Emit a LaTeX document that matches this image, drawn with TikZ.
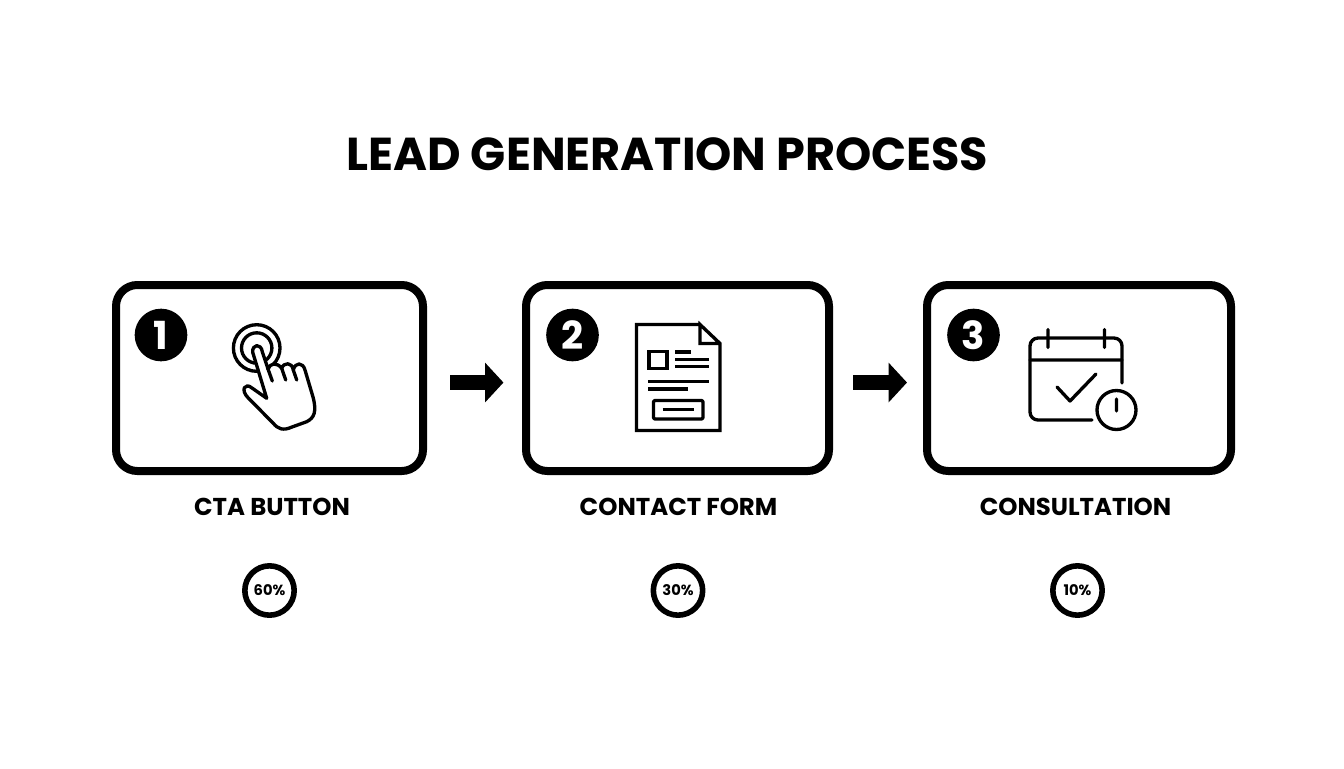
\documentclass[tikz,border=0pt]{standalone}
\usepackage{fontspec}
\setmainfont{Poppins}
\usetikzlibrary{arrows.meta}
\tikzset{
    % One unit of the picture is one pixel of the layout
    every node/.style={align=center, text=black, inner sep=0},
%
    title/.style={font=\fontsize{34.6}{40}\selectfont\bfseries},
    card/.style={
        draw, rectangle, line width=6pt, rounded corners=16pt,
        minimum height=139.5pt},
    badge/.style={
        circle, fill=black, text=white, minimum size=39.5pt,
        font=\fontsize{29}{30}\selectfont\bfseries},
    step label/.style={font=\fontsize{18.3}{20}\selectfont\bfseries},
    share/.style={
        draw, circle, line width=4.2pt, minimum size=37pt,
        font=\fontsize{11}{12}\selectfont\bfseries},
%
    flow/.style={
        draw, line width=11.25pt,
        -{Triangle[length=13.8pt, width=29pt]}},
    icon/.style={line width=2.5pt, line cap=round, line join=round},
}

\begin{document}
\begin{tikzpicture}[
    x=0.75pt, y=-0.75pt]

\useasboundingbox (0,0) rectangle (1344,768);

\path
    (667.5,154) node [title] (heading) {LEAD GENERATION PROCESS}
    (269.5,378) node [card, minimum width=230.25pt] (card one) {}
    (677.5,378) node [card, minimum width=227.25pt] (card two) {}
    (1079,378) node [card, minimum width=228pt] (card three) {}
    (161,335) node [badge] (badge one) {1}
    (572.5,335) node [badge] (badge two) {2}
    (973.5,335) node [badge] (badge three) {3}
    (272,507) node [step label] (label one) {CTA BUTTON}
    (678.5,507) node [step label] (label two) {CONTACT FORM}
    (1075.5,507) node [step label] (label three) {CONSULTATION}
    (269.5,590.5) node [share] (share one) {60\%}
    (678,590.5) node [share] (share two) {30\%}
    (1077.5,590.5) node [share] (share three) {10\%};

\draw [flow, shorten <=17.25pt, shorten >=13.9pt]
    ([yshift=-3.4pt]card one.east) -- ([yshift=-3.4pt]card two.west);
\draw [flow, shorten <=15pt, shorten >=12pt]
    ([yshift=-3.4pt]card two.east) -- ([yshift=-3.4pt]card three.west);

% Hand on a button
\draw [icon] (256.7,348) circle (23.3);
\draw [icon] (256.7,348) circle (15.2);
\draw [icon, fill=white]
    (252.7,352.3) .. controls (252,344) and (261,343) .. (262.3,351.7)
    -- (268,369)
    .. controls (270,363) and (277,362) .. (281.7,368.3)
    .. controls (284,362) and (292,362) .. (293.3,370)
    .. controls (295,362) and (303,362) .. (305,370)
    -- (313,397)
    .. controls (317,412) and (314,418) .. (306.7,421.7)
    -- (292,427)
    .. controls (283,431) and (278,429) .. (273.3,423.3)
    -- (248.3,398)
    .. controls (240,390) and (245,382) .. (252,388)
    -- (266.7,398.3) -- cycle;
\draw [icon]
    (268,369) -- (272.3,381)
    (281.7,368.3) -- (285.7,380)
    (293.3,370) -- (296.7,380);

% Form sheet
\draw [icon, line join=miter]
    (700,324.5) -- (636.5,324.5) -- (636.5,430.5) -- (720,430.5)
    -- (720,343.5) -- (700,324.5) -- (700,343.5) -- (720,343.5);
\draw [icon, line join=miter] (649,351.5) rectangle (667,368.5);
\draw [icon, line cap=butt]
    (675,352) -- (690.5,352)
    (675,359.5) -- (709,359.5)
    (675,366.5) -- (709,366.5)
    (648,381.5) -- (709,381.5)
    (648,389) -- (687.5,389)
    (662.5,409.5) -- (694,409.5);
\draw [icon, rounded corners=1pt] (653.5,400.5) rectangle (703,419);

% Calendar with a clock
\draw [icon, rounded corners=6pt]
    (1092,420) -- (1030,420) -- (1030,338) -- (1122,338) -- (1122,383);
\draw [icon]
    (1030,360) -- (1122,360)
    (1048,329.5) -- (1048,347.5)
    (1104.5,329.5) -- (1104.5,347.5)
    (1057,387) -- (1070,401) -- (1096,374)
    (1116.5,399) -- (1116.5,411)
    (1116.5,410) circle (19.5);

\end{tikzpicture}
\end{document}
